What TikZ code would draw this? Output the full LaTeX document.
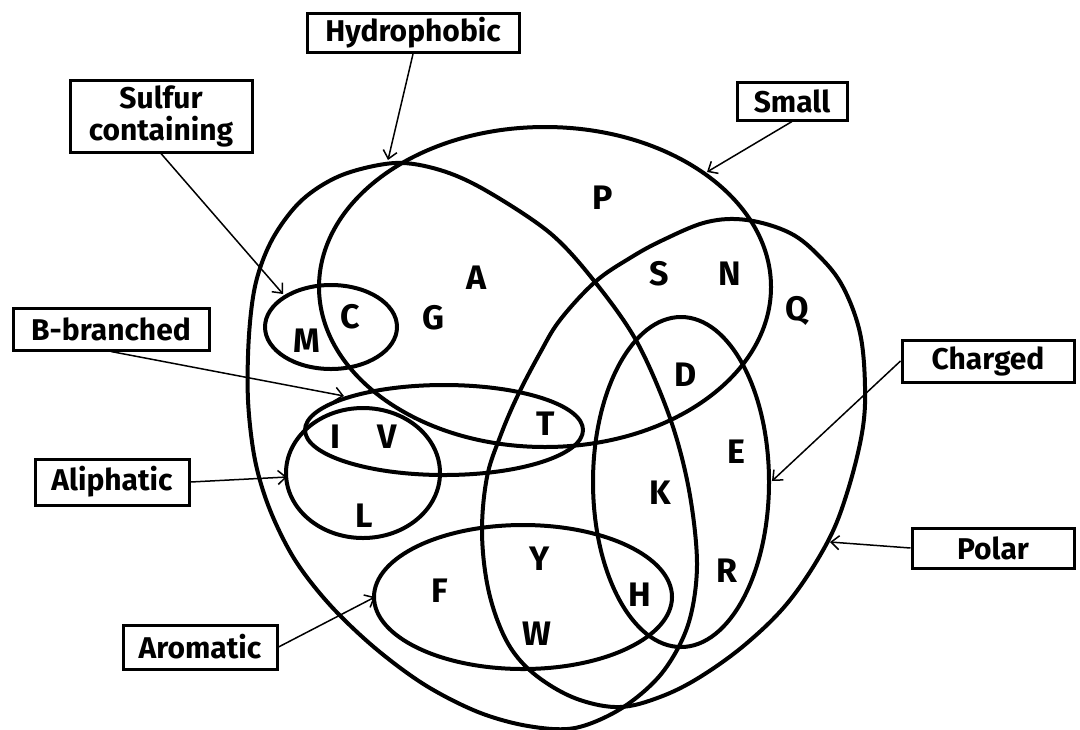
\documentclass[tikz,border=0pt]{standalone}
\usepackage{fontspec}
\setmainfont{Fira Sans}
\usetikzlibrary{arrows.meta}

\begin{document}
\begin{tikzpicture}[x=0.5pt, y=-0.5pt,
		set/.style={line width=2pt, line join=round},
		tag/.style={draw, line width=1.5pt, minimum height=19pt, inner sep=2pt, align=center, font=\fontsize{15}{17}\selectfont\bfseries},
		res/.style={inner sep=0pt, font=\fontsize{17}{20}\selectfont\bfseries},
		pointer/.style={-{Straight Barb[length=4pt,width=7pt]}, line width=0.75pt}]

	\useasboundingbox (0,0) rectangle (1080,729);

	% hydrophobic
	\draw[set] plot[smooth cycle, tension=0.55] coordinates {(395,163) (440,170) (485,190) (550,233) (595,282) (637,342) (670,418) (689,490) (697,565) (688,625) (662,673) (622,708) (575,728) (528,726) (478,712) (425,685) (375,648) (330,605) (295,560) (270,510) (255,460) (248,400) (249,335) (256,282) (273,238) (302,200) (342,175)};

	% polar
	\draw[set] plot[smooth cycle, tension=0.6] coordinates {(560,320) (595,282) (630,258) (663,240) (707,222) (747,220) (790,233) (820,257) (843,287) (860,333) (865,387) (862,433) (847,493) (827,543) (790,600) (747,643) (700,677) (660,697) (620,707) (580,700) (545,682) (518,658) (500,627) (487,583) (482,530) (487,477) (500,437) (517,397) (540,353)};

	% small, charged, aromatic
	\draw[set] (545,287) ellipse [x radius=113pt, y radius=80pt];
	\draw[set] (681,482) ellipse [x radius=44pt, y radius=82.5pt];
	\draw[set] (523,597) ellipse [x radius=74.5pt, y radius=36pt];

	% aliphatic, sulfur, b-branched
	\draw[set] (363,473) ellipse [x radius=38.5pt, y radius=32.5pt];
	\draw[set] (331,327) ellipse [x radius=33pt, y radius=21pt];
	\draw[set] (444,430) ellipse [x radius=69.5pt, y radius=22.5pt];

	% residues
	\node[res] (P) at (603,198) {P};
	\node[res] (A) at (477,278) {A};
	\node[res] (G) at (433,318) {G};
	\node[res] (C) at (350,317) {C};
	\node[res] (M) at (307,341) {M};
	\node[res] (S) at (659,274) {S};
	\node[res] (N) at (730,274) {N};
	\node[res] (Q) at (797,311) {Q};
	\node[res] (D) at (686,375) {D};
	\node[res] (T) at (546,424) {T};
	\node[res] (I) at (335,437) {I};
	\node[res] (V) at (387,437) {V};
	\node[res] (L) at (364,516) {L};
	\node[res] (E) at (736,452) {E};
	\node[res] (K) at (660,493) {K};
	\node[res] (R) at (727,571) {R};
	\node[res] (Y) at (540,559) {Y};
	\node[res] (F) at (440,591) {F};
	\node[res] (H) at (640,595) {H};
	\node[res] (W) at (537,634) {W};

	% labels
	\node[tag, minimum width=106pt] (hydro) at (413,33) {Hydrophobic};
	\node[tag, minimum width=91pt, minimum height=36pt, inner sep=1pt] (sulfur) at (161,116) {Sulfur\\[-1pt]containing};
	\node[tag, minimum width=55pt] (small) at (792,101) {Small};
	\node[tag, minimum width=98pt, minimum height=21pt] (branched) at (111,329) {B-branched};
	\node[tag, minimum width=77pt, minimum height=23pt] (aliph) at (112,482) {Aliphatic};
	\node[tag, minimum width=77pt, minimum height=22pt] (arom) at (200,647) {Aromatic};
	\node[tag, minimum width=86pt, minimum height=21pt] (charged) at (988,361) {Charged};
	\node[tag, minimum width=81pt, minimum height=20pt] (polar) at (993,548) {Polar};

	\coordinate (hydroTip) at (388,160);
	\coordinate (sulfurTip) at (283,294);
	\coordinate (smallTip) at (707,172);
	\coordinate (branchedTip) at (344,396);
	\coordinate (aliphTip) at (287,477);
	\coordinate (aromTip) at (375,597);
	\coordinate (chargedTip) at (772,481);
	\coordinate (polarTip) at (830,542);

	\draw[pointer] (hydro.south) -- (hydroTip);
	\draw[pointer] (sulfur.south) -- (sulfurTip);
	\draw[pointer] (small.south) -- (smallTip);
	\draw[pointer] (branched.south) -- (branchedTip);
	\draw[pointer] (aliph.east) -- (aliphTip);
	\draw[pointer] (arom.east) -- (aromTip);
	\draw[pointer] (charged.west) -- (chargedTip);
	\draw[pointer] (polar.west) -- (polarTip);
\end{tikzpicture}
\end{document}
